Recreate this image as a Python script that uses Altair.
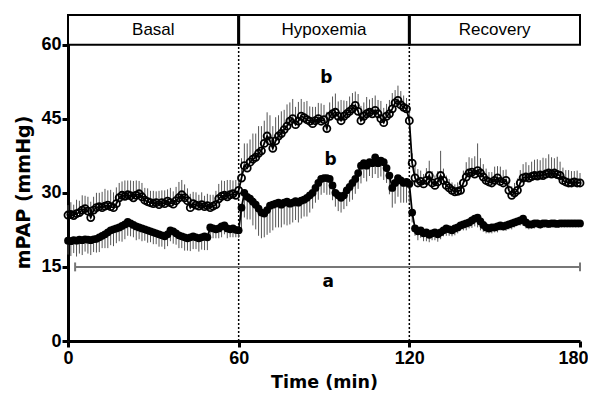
import altair as alt
import pandas as pd

# ---------------- data ----------------
time_min = list(range(181))

open_mean = [
    25.5, 25.6, 25.4, 25.8, 26.0, 26.5, 26.8, 26.3, 25.0, 26.5,
    27.0, 27.2, 27.0, 27.3, 27.5, 27.2, 27.0, 27.8, 29.0, 29.5,
    29.3, 29.6, 29.4, 29.0, 29.5, 29.8, 29.2, 28.5, 28.2, 28.0,
    27.8, 28.0, 27.6, 28.0, 27.8, 28.3, 28.0, 27.7, 28.4, 29.0,
    29.6, 29.0, 28.4, 27.0, 27.8, 27.5, 27.3, 27.6, 27.2, 27.4,
    27.0, 27.3, 27.6, 28.8, 29.3, 29.5, 29.2, 29.6, 29.8, 29.5,
    30.5, 33.0, 35.5, 35.0, 36.2, 36.8, 37.2, 38.0, 38.5, 40.0,
    41.5, 40.5, 39.0, 40.5, 41.5, 42.0, 42.8, 43.5, 44.5, 45.0,
    43.8, 44.5, 45.5, 45.2, 44.8, 44.5, 44.0, 44.6, 45.0, 44.5,
    44.8, 43.0, 45.5, 46.0, 46.3, 45.5, 44.6, 45.5, 46.0, 46.5,
    47.0, 47.7, 46.5, 44.6, 45.5, 46.0, 46.3, 46.0, 46.7, 46.0,
    45.0, 44.2, 45.5, 46.0, 47.0, 48.2, 48.7, 47.8, 47.3, 47.0,
    44.6, 36.0, 33.0, 32.0, 32.3, 31.8, 32.5, 33.5, 32.0, 31.5,
    32.2, 33.5, 32.5, 31.5, 31.0, 30.5, 30.2, 30.3, 30.5, 32.0,
    33.2, 34.0, 34.2, 33.8, 34.5, 34.0, 33.2, 32.5, 32.2, 32.0,
    32.5, 33.0, 32.3, 32.0, 32.5, 30.5, 29.5, 30.0, 30.5, 32.0,
    33.0, 33.2, 33.0, 33.3, 33.5, 33.4, 33.6, 33.5, 33.8, 34.0,
    33.8, 34.0, 33.7, 33.5, 32.5, 32.2, 32.0, 32.0, 32.2, 32.0,
    32.0,
]

open_sem = [
    2.0, 2.5, 2.2, 2.8, 2.4, 3.0, 2.6, 2.9, 3.2, 2.7,
    3.0, 2.8, 3.2, 3.5, 3.0, 3.4, 3.1, 3.3, 3.0, 2.8,
    3.2, 2.9, 3.1, 3.4, 3.0, 2.6, 2.8, 2.5, 2.7, 2.4,
    2.6, 2.3, 2.8, 2.5, 2.7, 2.4, 3.0, 2.6, 2.8, 3.2,
    3.0, 2.7, 2.5, 2.8, 2.4, 2.6, 2.3, 2.5, 2.2, 2.4,
    2.6, 2.3, 2.8, 3.0, 3.2, 2.9, 3.4, 3.0, 2.7, 3.1,
    3.0, 4.0, 4.5, 5.0, 4.6, 5.2, 4.8, 5.5, 5.0, 4.6,
    4.8, 5.2, 4.5, 4.8, 4.2, 4.5, 4.0, 4.4, 3.8, 4.0,
    3.6, 3.9, 3.5, 3.2, 3.8, 3.0, 3.4, 2.8, 3.2, 3.6,
    3.0, 3.4, 2.8, 3.5, 3.8, 3.0, 4.2, 3.2, 2.6, 3.0,
    3.2, 2.8, 3.5, 3.0, 2.8, 3.4, 2.6, 3.2, 3.0, 2.8,
    3.6, 3.0, 2.5, 2.8, 3.2, 2.6, 3.0, 2.8, 2.4, 2.2,
    2.5, 2.0, 2.5, 2.8, 2.2, 2.0, 2.5, 3.0, 2.4, 2.0,
    2.2, 5.0, 2.4, 2.0, 1.8, 1.6, 1.5, 1.8, 2.0, 2.5,
    3.0, 3.2, 2.8, 3.6, 5.5, 3.0, 2.6, 2.4, 2.0, 2.2,
    2.8, 2.4, 3.0, 2.6, 2.2, 2.0, 1.8, 2.0, 2.4, 2.6,
    2.8, 3.0, 2.6, 3.0, 3.2, 3.4, 3.0, 3.6, 3.2, 3.8,
    3.4, 3.0, 3.6, 2.8, 2.6, 2.4, 2.6, 2.4, 2.2, 2.5,
    2.0,
]

filled_mean = [
    20.3, 20.2, 20.4, 20.3, 20.5, 20.4, 20.6, 20.5, 20.4, 20.6,
    20.7, 21.0, 21.3, 21.6, 22.0, 22.4, 22.6, 22.8, 23.0, 23.3,
    23.6, 24.1, 23.8, 23.5, 23.2, 23.0, 22.8, 22.6, 22.4, 22.2,
    22.0, 21.8, 21.6, 21.4, 21.2, 21.6, 22.4, 22.2, 21.8, 21.4,
    21.2, 21.0, 20.8, 21.0, 21.2, 21.0, 20.8, 21.0, 21.2, 21.0,
    23.0, 22.8, 22.6, 22.8, 23.2, 23.4, 22.8, 22.6, 22.8, 22.5,
    22.4, 27.0, 30.0, 29.2, 28.8, 28.2, 27.6, 26.8, 26.0, 25.8,
    26.5, 27.4, 27.6, 27.8, 28.0, 27.6, 28.0, 28.2, 27.8, 28.0,
    28.3, 28.0, 28.4, 28.6, 29.0, 29.5, 30.0, 31.0, 32.0, 32.8,
    33.0, 33.0, 32.8, 31.5, 30.0, 29.5, 29.0, 29.5, 30.5, 31.2,
    32.0, 32.8, 34.0, 35.5, 36.0, 35.5, 36.2, 36.0, 37.2, 36.0,
    36.5, 36.2, 35.0, 33.5, 31.0, 32.0, 33.0, 32.5, 32.0, 32.2,
    31.8, 26.0, 22.8, 22.2, 22.4, 21.8, 22.0, 21.5, 21.8, 22.0,
    21.6, 22.0, 22.4, 22.8, 22.6, 22.4, 22.8, 23.0, 23.4, 23.6,
    23.8, 24.0, 24.4, 24.8, 25.0, 24.2, 23.5, 23.0, 22.8, 23.0,
    23.0, 23.2, 23.4, 23.2, 23.4, 23.6, 23.8, 24.0, 24.2, 24.4,
    24.8, 24.0, 23.6, 23.6, 23.8, 23.8, 23.6, 23.8, 23.8, 23.7,
    23.8, 23.8, 23.7, 23.8, 23.8, 23.8, 23.8, 23.8, 23.8, 23.8,
    23.8,
]

filled_sem = [
    2.8, 3.0, 2.6, 3.2, 2.8, 3.0, 2.5, 2.8, 3.0, 2.6,
    2.8, 3.0, 2.5, 2.8, 3.2, 3.0, 3.4, 3.0, 2.8, 3.2,
    3.0, 2.8, 2.6, 2.5, 2.8, 2.4, 2.6, 2.3, 2.5, 2.2,
    2.4, 2.2, 2.5, 2.3, 2.6, 2.4, 2.2, 2.5, 2.3, 2.6,
    2.4, 2.7, 2.5, 2.8, 2.6, 2.4, 2.7, 2.5, 2.8, 2.6,
    2.2, 2.0, 1.8, 2.0, 2.2, 1.8, 2.0, 1.6, 1.8, 1.5,
    1.5, 4.5, 5.0, 4.6, 4.2, 4.8, 5.0, 5.5, 5.2, 4.8,
    5.0, 5.5, 5.2, 4.8, 5.0, 4.6, 4.4, 4.8, 4.2, 4.0,
    3.8, 4.0, 3.6, 3.4, 3.8, 3.5, 3.2, 3.0, 3.4, 3.2,
    3.0, 3.4, 3.2, 3.0, 2.8, 3.2, 3.0, 2.8, 3.2, 3.0,
    3.4, 3.0, 3.2, 3.6, 3.0, 3.2, 2.8, 3.0, 3.4, 3.0,
    3.2, 3.6, 3.0, 3.8, 4.0, 4.2, 3.8, 4.5, 4.0, 4.2,
    3.8, 2.0, 1.5, 1.8, 1.5, 1.6, 1.8, 1.5, 1.4, 1.6,
    1.5, 1.4, 1.2, 1.5, 1.3, 1.2, 1.4, 1.2, 1.0, 1.2,
    1.4, 1.2, 1.5, 1.6, 2.0, 1.8, 1.4, 1.2, 1.0, 1.2,
    1.0, 1.2, 1.0, 0.9, 1.1, 1.0, 1.2, 1.0, 0.8, 1.0,
    1.5, 1.2, 1.0, 0.9, 1.0, 0.8, 0.9, 0.8, 0.7, 0.8,
    0.7, 0.8, 0.6, 0.7, 0.6, 0.5, 0.6, 0.5, 0.5, 0.5,
    0.5,
]

phase_names = ["Basal", "Hypoxemia", "Recovery"]
phase_start = [0, 60, 120]
phase_end = [60, 120, 180]
phase_bounds = [60, 120]

x_ticks = [0, 60, 120, 180]
y_ticks = [0, 15, 30, 45, 60]

sig_start, sig_end, sig_level = 2.5, 180, 15
annot_text = ["b", "b", "a"]
annot_t = [90.8, 92.3, 91.5]
annot_v = [53.2, 36.6, 11.9]

# ---------------- tables ----------------
df = pd.DataFrame({
    "t": time_min,
    "om": open_mean,
    "ohi": [m + s for m, s in zip(open_mean, open_sem)],
    "fm": filled_mean,
    "flo": [m - s for m, s in zip(filled_mean, filled_sem)],
})
phases = pd.DataFrame({"name": phase_names, "s": phase_start, "e": phase_end,
                       "mid": [(a + b) / 2 for a, b in zip(phase_start, phase_end)],
                       "y0": [60] * 3, "y1": [66] * 3, "ym": [63] * 3})
bounds = pd.DataFrame({"t": phase_bounds, "y0": [0, 0], "y1": [60, 60],
                       "h0": [60, 60], "h1": [66, 66]})
sig = pd.DataFrame({"s": [sig_start], "e": [sig_end], "v": [sig_level]})
caps = pd.DataFrame({"t": [sig_start, sig_end], "lo": [sig_level - 0.9] * 2,
                     "hi": [sig_level + 0.9] * 2})
annots = pd.DataFrame({"txt": annot_text, "t": annot_t, "v": annot_v})

FONT = "DejaVu Sans"
LFONT = "Liberation Sans"
xscale = alt.Scale(domain=[0, 180], nice=False, zero=False)
yscale = alt.Scale(domain=[0, 66], nice=False, zero=False)
xaxis = alt.Axis(title="Time (min)", values=x_ticks, grid=False, domainWidth=3,
                 domainColor="black", tickWidth=3, tickColor="black", tickSize=6,
                 labelFont=LFONT, labelFontSize=18, labelFontWeight="bold",
                 labelColor="black", labelPadding=2, titleFont=FONT,
                 titleFontSize=17.5, titleFontWeight="bold", titleColor="black",
                 titlePadding=6, labelFlush=False,
                 labelAlign={"expr": "datum.value == 180 ? 'right' : 'center'"},
                 labelOffset={"expr": "datum.value == 180 ? 8 : 0"})
yaxis = alt.Axis(title="mPAP (mmHg)", values=y_ticks, grid=False, domainWidth=3,
                 domainColor="black", tickWidth=3, tickColor="black", tickSize=6,
                 labelFont=LFONT, labelFontSize=18, labelFontWeight="bold",
                 labelColor="black", labelPadding=1, titleFont=FONT,
                 titleFontSize=19, titleFontWeight="bold", titleColor="black",
                 titlePadding=7, titleY=177, labelFlush=False)


def X(f):
    return alt.X(f, type="quantitative", scale=xscale, axis=xaxis)


def Y(f):
    return alt.Y(f, type="quantitative", scale=yscale, axis=yaxis)


base = alt.Chart(df)

err_open = base.mark_rule(color="#555555", strokeWidth=1).encode(
    x=X("t"), y=Y("om"), y2="ohi")
err_filled = base.mark_rule(color="#555555", strokeWidth=1).encode(
    x=X("t"), y=Y("flo"), y2="fm")
line_open = base.mark_line(color="black", strokeWidth=1.8).encode(x=X("t"), y=Y("om"))
line_filled = base.mark_line(color="black", strokeWidth=1.8).encode(x=X("t"), y=Y("fm"))
pts_open = base.mark_point(shape="circle", filled=False, color="black",
                           strokeWidth=1.8, size=50, opacity=1).encode(x=X("t"), y=Y("om"))
pts_filled = base.mark_point(shape="circle", filled=True, color="black",
                             size=60, opacity=1).encode(x=X("t"), y=Y("fm"))

dotted = alt.Chart(bounds).mark_rule(color="black", strokeWidth=1.5,
                                     strokeDash=[2, 2]).encode(
    x=X("t"), y=Y("y0"), y2="y1")

sig_line = alt.Chart(sig).mark_rule(color="#777777", strokeWidth=2).encode(
    x=X("s"), x2="e", y=Y("v"))
sig_caps = alt.Chart(caps).mark_rule(color="#777777", strokeWidth=2).encode(
    x=X("t"), y=Y("lo"), y2="hi")

header = alt.Chart(phases).mark_rect(fill="white", stroke="black",
                                     strokeWidth=2).encode(
    x=X("s"), x2="e", y=Y("y0"), y2="y1")
header_div = alt.Chart(bounds).mark_rule(color="black", strokeWidth=3).encode(
    x=X("t"), y=Y("h0"), y2="h1")
header_txt = alt.Chart(phases).mark_text(font=LFONT, fontSize=17,
                                         color="black").encode(
    x=X("mid"), y=Y("ym"), text="name")

annot = alt.Chart(annots).mark_text(font=FONT, fontSize=17, fontWeight="bold",
                                    color="black").encode(
    x=X("t"), y=Y("v"), text="txt")

chart = alt.layer(
    header, header_div, header_txt, dotted, sig_line, sig_caps,
    err_open, err_filled, line_open, line_filled, pts_open, pts_filled, annot
).properties(
    width=512, height=326,
    autosize=alt.AutoSizeParams(type="none"),
    padding={"left": 60, "top": 7, "right": 8, "bottom": 50},
    background="white",
).configure_view(stroke=None)

chart.save("out.html", embed_options={"renderer": "svg", "actions": False})
